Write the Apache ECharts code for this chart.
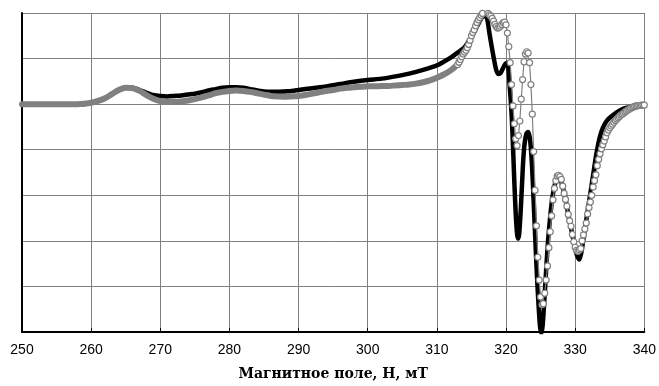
<!DOCTYPE html>
<html><head><meta charset="utf-8">
<script src="https://cdn.jsdelivr.net/npm/echarts@6/dist/echarts.min.js"></script>
<style>html,body{margin:0;padding:0;background:#fff;overflow:hidden}#c{width:659px;height:386px}</style>
</head><body><div id="c"></div>
<script>
// X tick labels
const xTicks = [250,260,270,280,290,300,310,320,330,340];
const xTitle = 'Магнитное поле, H, мТ';

// Black spectrum
const blackField = [250,255,259,260,261,262,263,264,265,266,267,268,269,270,271,272,273,274,275,276,277,278,279,280,281,282,283,284,285,286,287,288,289,290,292,294,296,298,300,302,304,306,308,310,311,312,313,314,315,315.5,316,316.5,317,317.3,317.6,318,318.3,318.6,318.9,319.2,319.6,319.9,320.2,320.5,320.8,321.0,321.2,321.4,321.6,321.75,321.9,322.1,322.3,322.5,322.7,322.95,323.2,323.45,323.7,323.9,324.1,324.3,324.5,324.7,324.9,325.1,325.3,325.5,325.7,325.9,326.1,326.4,326.7,327.0,327.3,327.6,327.9,328.2,328.5,328.8,329.1,329.4,329.7,330.0,330.3,330.6,330.9,331.2,331.5,331.8,332.1,332.4,332.7,333.0,333.3,333.6,334.0,334.5,335.0,336.0,337.0,338.0,339.0,340.0];
const blackValue = [0,0,0,0.03,0.07,0.13,0.22,0.31,0.36,0.36,0.31,0.25,0.2,0.18,0.17,0.18,0.19,0.21,0.23,0.26,0.3,0.33,0.36,0.37,0.37,0.36,0.33,0.3,0.28,0.27,0.27,0.28,0.29,0.31,0.35,0.39,0.44,0.49,0.53,0.56,0.61,0.67,0.75,0.85,0.93,1.02,1.13,1.25,1.48,1.62,1.76,1.9,1.95,1.85,1.56,1.2,0.95,0.74,0.66,0.68,0.8,0.88,0.91,0.45,-0.2,-0.9,-1.7,-2.4,-2.85,-2.95,-2.85,-2.4,-1.8,-1.2,-0.85,-0.65,-0.61,-0.75,-1.2,-1.8,-2.5,-3.2,-3.85,-4.4,-4.85,-5.03,-4.85,-4.4,-3.9,-3.4,-2.95,-2.45,-2.05,-1.8,-1.65,-1.6,-1.66,-1.82,-2.0,-2.25,-2.5,-2.72,-2.95,-3.17,-3.33,-3.41,-3.25,-2.95,-2.65,-2.35,-2.05,-1.75,-1.45,-1.15,-0.9,-0.7,-0.52,-0.38,-0.3,-0.18,-0.1,-0.06,-0.03,-0.02];

// Grey spectrum, flat part (dense points merge into a band)
const greyBandField = [250,251,252,253,254,255,256,257,258,259,260,261,262,263,264,265,266,267,268,269,270,271,272,273,274,275,276,277,278,279,280,281,282,283,284,285,286,287,288,289,290,291,292,293,294,295,296,297,298,299,300,301,302,303,304,305,306,307,308,309,310,311,312,313];
const greyBandValue = [0,0,0,0,0,0,0,0,0,0.01,0.03,0.07,0.13,0.22,0.31,0.36,0.35,0.29,0.2,0.12,0.07,0.05,0.05,0.06,0.08,0.11,0.15,0.19,0.24,0.27,0.29,0.3,0.29,0.27,0.24,0.21,0.18,0.17,0.16,0.17,0.18,0.2,0.23,0.26,0.29,0.31,0.34,0.36,0.37,0.38,0.39,0.39,0.4,0.4,0.41,0.42,0.43,0.45,0.48,0.52,0.58,0.65,0.74,0.87];

// Grey spectrum, resolved points (open circles)
const greyDotField = [313.0,313.2,313.4,313.6,313.8,314.0,314.2,314.4,314.6,314.8,315.0,315.2,315.4,315.6,315.8,316.0,316.2,316.4,316.6,316.8,317.0,317.2,317.4,317.6,317.8,318.0,318.2,318.4,318.6,318.8,319.0,319.2,319.4,319.6,319.8,320.0,320.2,320.4,320.6,320.8,321.0,321.2,321.4,321.6,321.8,322.0,322.2,322.4,322.6,322.8,323.0,323.2,323.4,323.6,323.8,324.0,324.2,324.4,324.6,324.8,325.0,325.2,325.4,325.6,325.8,326.0,326.2,326.4,326.6,326.8,327.0,327.2,327.4,327.6,327.8,328.0,328.2,328.4,328.6,328.8,329.0,329.2,329.4,329.6,329.8,330.0,330.2,330.4,330.6,330.8,331.0,331.2,331.4,331.6,331.8,332.0,332.2,332.4,332.6,332.8,333.0,333.2,333.4,333.6,333.8,334.0,334.2,334.4,334.6,334.8,335.0,335.2,335.4,335.6,335.8,336.0,336.2,336.4,336.6,336.8,337.0,337.2,337.4,337.6,337.8,338.0,338.2,338.4,338.6,338.8,339.0,339.2,339.4,339.6,339.8,340.0];
const greyDotValue = [0.87,0.92,0.98,1.04,1.10,1.14,1.18,1.24,1.31,1.40,1.50,1.57,1.63,1.72,1.79,1.85,1.90,1.95,1.99,2.02,2.02,2.01,1.99,1.96,1.93,1.88,1.82,1.75,1.70,1.67,1.68,1.71,1.75,1.79,1.80,1.74,1.56,1.26,0.91,0.43,-0.04,-0.43,-0.76,-0.91,-0.69,-0.37,0.11,0.54,0.93,1.10,1.15,1.12,0.91,0.43,-0.22,-1.04,-1.89,-2.67,-3.36,-3.86,-4.23,-4.40,-4.38,-4.15,-3.86,-3.55,-3.15,-2.80,-2.45,-2.10,-1.85,-1.68,-1.58,-1.56,-1.59,-1.65,-1.80,-1.96,-2.09,-2.24,-2.42,-2.56,-2.68,-2.86,-3.02,-3.14,-3.21,-3.23,-3.20,-3.17,-3.00,-2.87,-2.74,-2.61,-2.41,-2.27,-2.15,-2.00,-1.82,-1.68,-1.55,-1.35,-1.21,-1.09,-0.98,-0.89,-0.81,-0.72,-0.63,-0.57,-0.52,-0.48,-0.44,-0.40,-0.36,-0.33,-0.30,-0.27,-0.24,-0.22,-0.20,-0.17,-0.15,-0.13,-0.11,-0.09,-0.08,-0.06,-0.05,-0.04,-0.04,-0.03,-0.03,-0.02,-0.02,-0.02];

const zip = (a, b) => a.map((x, i) => [x, b[i]]);

const chart = echarts.init(document.getElementById('c'), null, {renderer: 'canvas'});
chart.setOption({
  animation: false,
  backgroundColor: '#fff',
  grid: {left: 22, right: 14, top: 13, bottom: 50, containLabel: false},
  xAxis: {
    type: 'value', min: xTicks[0], max: xTicks[xTicks.length - 1], interval: 10,
    name: xTitle, nameLocation: 'middle', nameGap: 35,
    nameTextStyle: {fontFamily: 'DejaVu Serif', fontWeight: 'bold', fontSize: 14, color: '#000'},
    axisLine: {onZero: false, lineStyle: {color: '#000', width: 2}},
    axisTick: {show: true, inside: true, length: 4, lineStyle: {color: '#000', width: 1}},
    axisLabel: {fontFamily: 'Liberation Sans', fontSize: 14, color: '#000', margin: 11},
    splitLine: {show: true, lineStyle: {color: '#808080', width: 1}}
  },
  yAxis: {
    type: 'value', min: -5, max: 2, interval: 1,
    axisLine: {show: true, onZero: false, lineStyle: {color: '#000', width: 2}},
    axisTick: {show: false},
    axisLabel: {show: false},
    splitLine: {show: true, lineStyle: {color: '#808080', width: 1}}
  },
  series: [
    {type: 'line', data: zip(blackField, blackValue), symbol: 'none', smooth: 0.25,
     lineStyle: {color: '#000', width: 4.5, cap: 'round', join: 'round'}, z: 2},
    {type: 'line', data: zip(greyBandField, greyBandValue), symbol: 'none', smooth: 0.3,
     lineStyle: {color: '#808080', width: 6, cap: 'round', join: 'round'}, z: 3},
    {type: 'line', data: zip(greyDotField, greyDotValue), symbol: 'circle', symbolSize: 6,
     showSymbol: true, showAllSymbol: true,
     itemStyle: {color: '#fff', borderColor: '#808080', borderWidth: 1.2},
     lineStyle: {color: '#808080', width: 1.2}, z: 4}
  ]
});
</script></body></html>
